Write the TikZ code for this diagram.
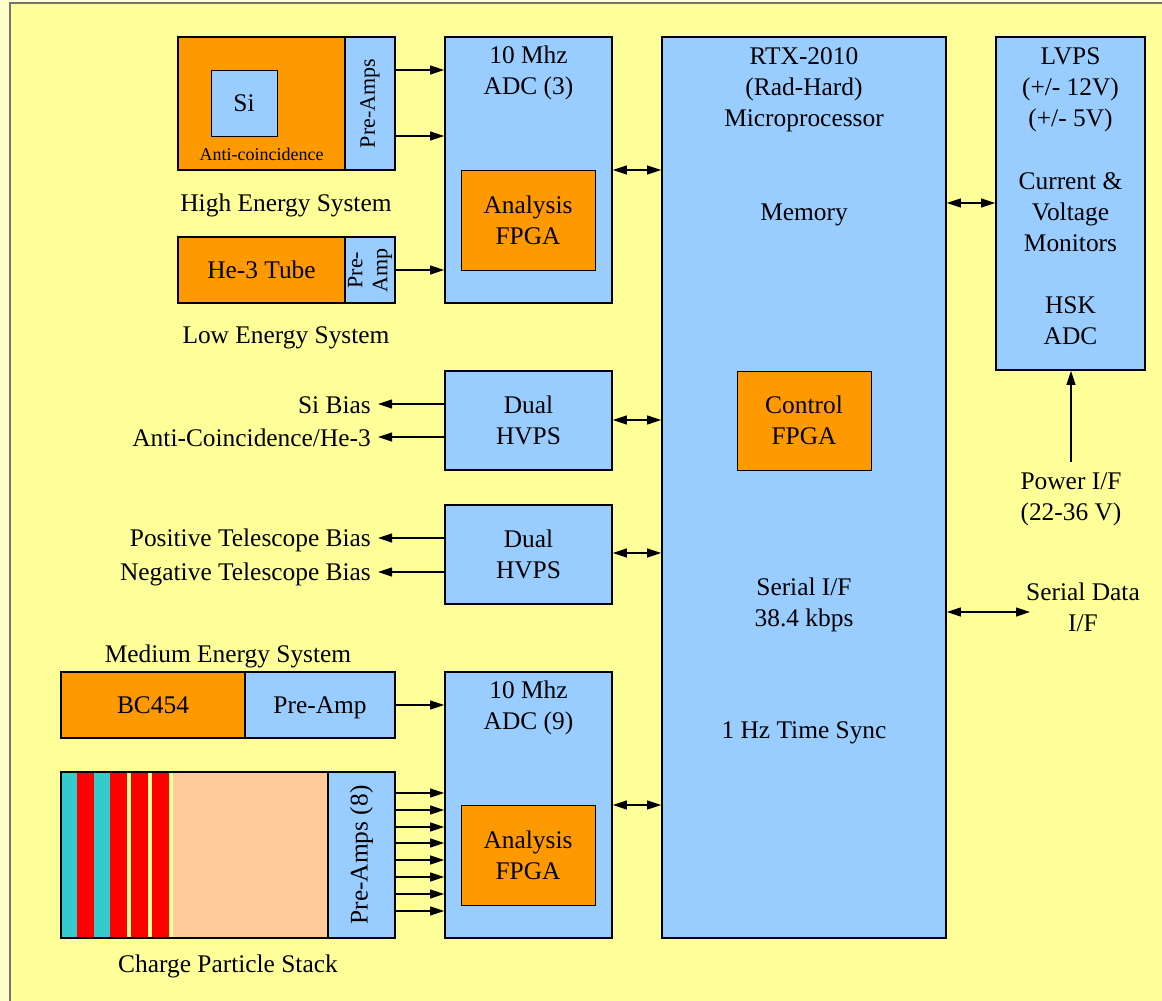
\documentclass[tikz,border=0pt]{standalone}
\usepackage{fontspec}
\setmainfont{Liberation Serif}
\usetikzlibrary{arrows.meta}
\definecolor{bgout}{HTML}{FFFFCC}
\definecolor{bgin}{HTML}{FFFF99}
\definecolor{orng}{HTML}{FF9900}
\definecolor{lblue}{HTML}{99CCFF}
\definecolor{tealc}{HTML}{33CCCC}
\definecolor{peach}{HTML}{FFCC99}
\tikzset{
 box/.style={draw=black, line width=1.8pt, inner sep=0pt, anchor=center},
 obox/.style={box, fill=orng},
 bbox/.style={box, fill=lblue},
 txt/.style={align=center, inner sep=0pt},
 small/.style={font=\fontsize{22}{26}\selectfont},
 tiny/.style={font=\fontsize{18}{22}\selectfont},
 conn/.style={line width=1.2pt, -{Triangle[length=14pt,width=9pt]}},
 bconn/.style={line width=1.2pt, {Triangle[length=14pt,width=9pt]}-{Triangle[length=14pt,width=9pt]}},
}
\begin{document}
\begin{tikzpicture}[x=1pt,y=-1pt, every node/.append style={font=\fontsize{25.4}{31}\selectfont}]
\useasboundingbox (0,0) rectangle (1162,1001);
\fill[bgout] (0,0) rectangle (1162,1001);
\draw[fill=bgin, draw=black!55, line width=1.2pt] (10,3) rectangle (1180,1020);

% High energy system
\node[obox, minimum width=167pt, minimum height=133pt] (heOr) at (261.5,103.5) {};
\node[bbox, minimum width=50pt, minimum height=133pt] (hePre) at (370,103.5) {};
\node[txt, small, rotate=90] (hePreT) at (370,103.5) {Pre-Amps};
\node[bbox, line width=1pt, minimum width=66pt, minimum height=66pt] (si) at (244,103) {Si};
\node[txt, tiny] (anti) at (261.5,154) {Anti-coincidence};
\node[txt] (hesys) at (286,205) {High Energy System};

% Low energy system
\node[obox, minimum width=167pt, minimum height=66pt] (he3) at (261.5,270) {He-3 Tube};
\node[bbox, minimum width=50pt, minimum height=66pt] (he3pre) at (370,270) {};
\node[txt, small, rotate=90, font=\fontsize{22}{25}\selectfont] (he3preT) at (370,270) {Pre-\\Amp};
\node[txt] (lesys) at (286,338) {Low Energy System};

% ADC (3)
\node[bbox, minimum width=167pt, minimum height=266pt] (adc3) at (528.5,170) {};
\node[txt] (adc3T) at (528.5,73) {10 Mhz\\ADC (3)};
\node[obox, line width=1pt, minimum width=134pt, minimum height=100pt, align=center] (af1) at (528,220) {Analysis\\FPGA};

% RTX
\node[bbox, minimum width=284pt, minimum height=901pt] (rtx) at (804,487.5) {};
\node[txt] (rtxT) at (804,90) {RTX-2010\\(Rad-Hard)\\Microprocessor};
\node[txt] (mem) at (804,215) {Memory};
\node[obox, line width=1pt, minimum width=134pt, minimum height=99pt, align=center] (cf) at (804,420.5) {Control\\FPGA};
\node[txt] (serT) at (804,605) {Serial I/F\\38.4 kbps};
\node[txt] (sync) at (804,733) {1 Hz Time Sync};

% LVPS
\node[bbox, minimum width=149pt, minimum height=333pt] (lvps) at (1070.5,203.5) {};
\node[txt] (lvpsT) at (1070.5,90) {LVPS\\(+/- 12V)\\(+/- 5V)};
\node[txt] (mon) at (1070.5,212) {Current \&\\Voltage\\Monitors};
\node[txt] (hsk) at (1070.5,321) {HSK\\ADC};

% HVPS
\node[bbox, minimum width=167pt, minimum height=99pt, align=center] (hv1) at (528.5,420.5) {Dual\\HVPS};
\node[bbox, minimum width=167pt, minimum height=99pt, align=center] (hv2) at (528.5,554.5) {Dual\\HVPS};

% ADC (9)
\node[bbox, minimum width=167pt, minimum height=266pt] (adc9) at (528.5,805) {};
\node[txt] (adc9T) at (528.5,708) {10 Mhz\\ADC (9)};
\node[obox, line width=1pt, minimum width=134pt, minimum height=100pt, align=center] (af2) at (528,855) {Analysis\\FPGA};

% Medium energy system
\node[txt] (mesys) at (228,656) {Medium Energy System};
\node[obox, minimum width=184pt, minimum height=66pt] (bc) at (153,705) {BC454};
\node[bbox, minimum width=150pt, minimum height=66pt] (bcpre) at (320,705) {};
\node[txt] (bcpreT) at (320,708) {Pre-Amp};

% Charge particle stack
\fill[tealc] (61,772) rectangle (77,938);
\fill[red] (77,772) rectangle (94,938);
\fill[tealc] (94,772) rectangle (110,938);
\fill[red] (110,772) rectangle (127,938);
\fill[bgin] (127,772) rectangle (131,938);
\fill[red] (131,772) rectangle (148,938);
\fill[bgin] (148,772) rectangle (152,938);
\fill[red] (152,772) rectangle (169,938);
\fill[bgin] (169,772) rectangle (173,938);
\fill[peach] (173,772) rectangle (328,938);
\node[box, minimum width=267pt, minimum height=166pt] (stack) at (194.5,855) {};
\node[bbox, minimum width=67pt, minimum height=166pt] (stpre) at (361.5,855) {};
\node[txt, rotate=90] (stpreT) at (361.5,855) {Pre-Amps (8)};
\node[txt] (cps) at (228,966) {Charge Particle Stack};

% Power and serial
\node[txt] (pwrT) at (1071,499) {Power I/F\\(22-36 V)};
\coordinate (pwr) at (1071,462);
\coordinate (ser) at (1030,612);
\node[txt] (serD) at (1083,607) {Serial Data\\I/F};

% Bias labels
\coordinate (sib) at (378,404);
\coordinate (acb) at (378,437);
\coordinate (ptb) at (378,538);
\coordinate (ntb) at (378,572);
\node[txt, anchor=east] (sibT) at (371,405) {Si Bias};
\node[txt, anchor=east] (acbT) at (371,438) {Anti-Coincidence/He-3};
\node[txt, anchor=east] (ptbT) at (371,540) {Positive Telescope Bias};
\node[txt, anchor=east] (ntbT) at (371,574) {Negative Telescope Bias};

% Connectors
\draw[conn] (hePre.east |- 0,70) -- (adc3.west |- 0,70);
\draw[conn] (hePre.east |- 0,136) -- (adc3.west |- 0,136);
\draw[conn] (he3pre.east |- 0,270) -- (adc3.west |- 0,270);
\draw[bconn] (adc3.east |- 0,170) -- (rtx.west |- 0,170);
\draw[bconn] (hv1.east |- 0,420) -- (rtx.west |- 0,420);
\draw[bconn] (hv2.east |- 0,553) -- (rtx.west |- 0,553);
\draw[bconn] (adc9.east |- 0,805) -- (rtx.west |- 0,805);
\draw[bconn] (rtx.east |- 0,203) -- (lvps.west |- 0,203);
\draw[conn] (pwr) -- (lvps.south -| pwr);
\draw[bconn] (rtx.east |- ser) -- (ser);
\draw[conn] (hv1.west |- sib) -- (sib);
\draw[conn] (hv1.west |- acb) -- (acb);
\draw[conn] (hv2.west |- ptb) -- (ptb);
\draw[conn] (hv2.west |- ntb) -- (ntb);
\draw[conn] (bcpre.east) -- (adc9.west |- bcpre.east);
\foreach \yy in {793,810,827,843,860,877,894,911}
  \draw[conn] (stpre.east |- 0,\yy) -- (adc9.west |- 0,\yy);
\end{tikzpicture}
\end{document}
